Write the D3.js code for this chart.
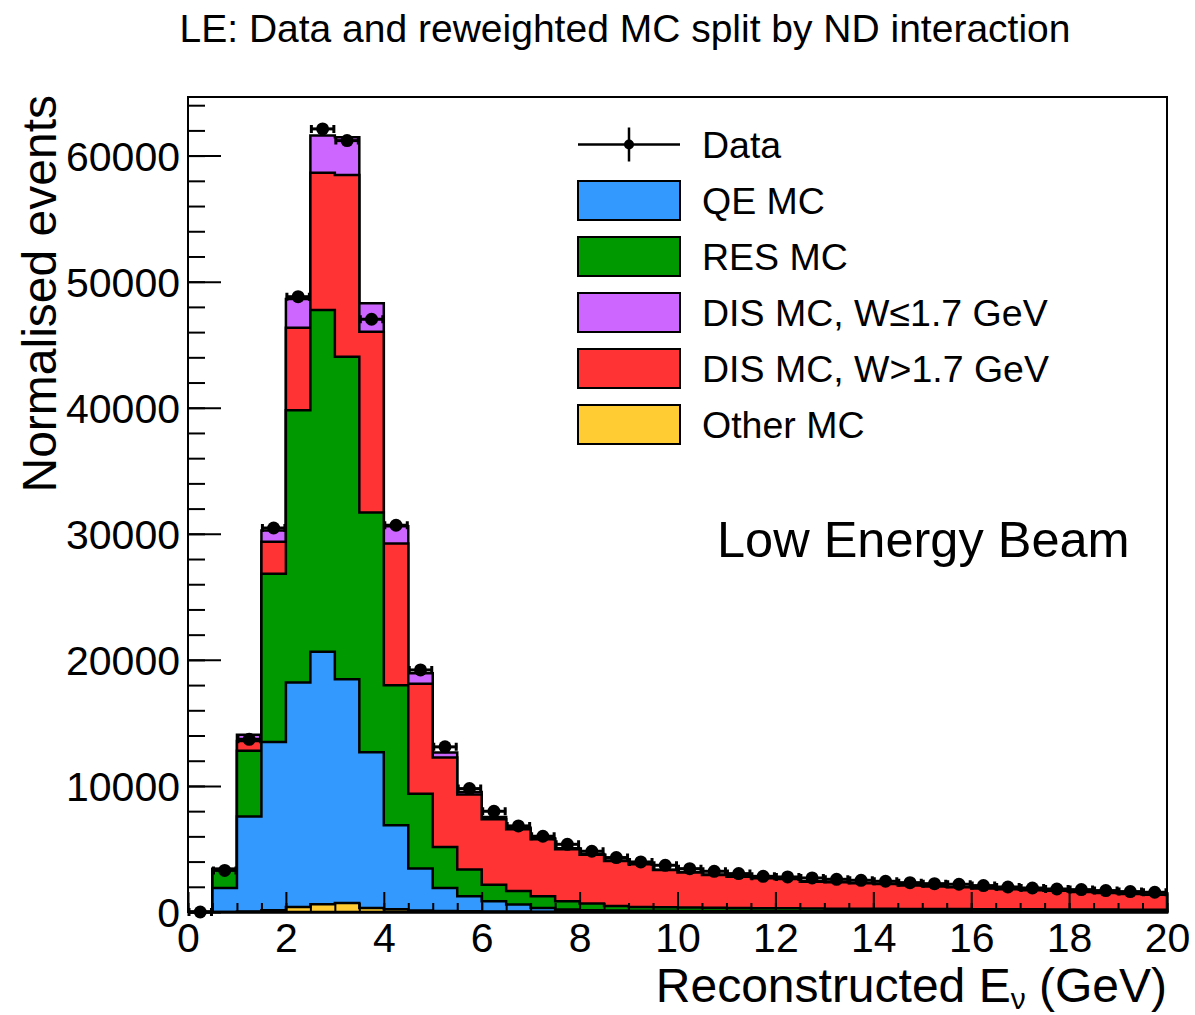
<!DOCTYPE html>
<html>
<head>
<meta charset="utf-8">
<script src="https://cdn.jsdelivr.net/npm/d3@7"></script>
<style>
  body { margin: 0; background: #fff; }
  svg { display: block; }
  text { font-family: "Liberation Sans", Arial, Helvetica, sans-serif; fill: #000; }
</style>
</head>
<body>
<svg id="chart" width="1195" height="1015"></svg>
<script>
// 0.5 GeV bins from 0 to 20 GeV
var binEdges = d3.range(0, 20.01, 0.5);

// per-bin contributions
var otherMC   = [0,0,40,130,400,610,715,320,215,120,80,60,40,30,25,20,20,15,15,12,12,11,11,10,10,10,10,9,9,9,9,8,8,8,8,8,7,7,7,7];
var qeMC      = [0,1900,7535,13360,17800,20040,17755,12350,6675,3330,1825,1186,810,560,295,170,110,95,85,80,75,70,65,60,58,55,52,50,48,46,44,42,40,38,36,35,33,32,31,30];
var resMC     = [0,1500,5225,13350,21610,27110,25580,19020,11090,5930,3255,2119,1320,1080,930,660,540,370,300,280,265,255,245,235,225,215,205,200,195,190,185,180,175,170,165,160,155,150,145,140];
var disHighMC = [0,20,770,2530,6540,10890,14420,14340,11260,8720,7090,5955,5190,4890,4520,4125,3880,3570,3390,2953,2791,2604,2479,2367,2329,2123,2097,2026,1973,1851,1778,1727,1644,1592,1519,1476,1384,1311,1247,1193];
var disLowMC  = [0,20,490,900,2280,2940,2990,2250,1360,830,400,200,180,130,80,85,60,40,40,35,32,30,30,28,28,27,26,25,25,24,24,23,23,22,22,21,21,20,20,20];
var dataPts   = [0,3300,13700,30460,48810,62120,61190,47020,30680,19200,13100,9790,7990,6830,6010,5370,4820,4320,3970,3706,3440,3230,3046,2830,2780,2700,2595,2516,2437,2330,2250,2200,2095,1985,1905,1825,1775,1700,1620,1565];

var xTicks = [0, 2, 4, 6, 8, 10, 12, 14, 16, 18, 20];
var yTicks = [0, 10000, 20000, 30000, 40000, 50000, 60000];

// stack order, bottom to top
var series = [
  { key: 'other',   name: 'Other MC',            color: '#ffcc33', vals: otherMC },
  { key: 'qe',      name: 'QE MC',               color: '#3399ff', vals: qeMC },
  { key: 'res',     name: 'RES MC',              color: '#009900', vals: resMC },
  { key: 'disHigh', name: 'DIS MC, W>1.7 GeV',   color: '#ff3333', vals: disHighMC },
  { key: 'disLow',  name: 'DIS MC, W\u22641.7 GeV', color: '#cc66ff', vals: disLowMC }
];
var legendOrder = ['qe', 'res', 'disLow', 'disHigh', 'other'];

(function () {
  var svg = d3.select('#chart');

  var padL = 188, padR = 1167, padT = 97, padB = 912;

  var x = d3.scaleLinear().domain([0, 20]).range([padL, padR]);
  var y = d3.scaleLinear().domain([0, 64650]).range([padB, padT]);

  // build rows and stack them
  var rows = dataPts.map(function (d, i) {
    var r = {};
    series.forEach(function (s) { r[s.key] = s.vals[i]; });
    return r;
  });
  var stacked = d3.stack().keys(series.map(function (s) { return s.key; }))(rows);

  var line = d3.line()
    .x(function (d) { return x(d[0]); })
    .y(function (d) { return y(d[1]); });

  function stepPoints(layer) {
    var pts = [[binEdges[0], 0]];
    layer.forEach(function (d, i) {
      pts.push([binEdges[i], d[1]]);
      pts.push([binEdges[i + 1], d[1]]);
    });
    pts.push([binEdges[binEdges.length - 1], 0]);
    return pts;
  }

  // draw cumulative histograms from the top of the stack down
  var histWrap = svg.append('g').attr('class', 'hist-wrap');
  for (var k = stacked.length - 1; k >= 0; k--) {
    histWrap.append('path')
      .attr('d', line(stepPoints(stacked[k])) + 'Z')
      .style('fill', series[k].color)
      .style('stroke', '#000')
      .style('stroke-width', 2.5)
      .style('stroke-linejoin', 'miter');
  }

  // Axis
  var axisFont = 41;

  var yMajor = svg.append('g')
    .attr('transform', `translate(${padL},0)`)
    .call(d3.axisLeft(y).tickValues(yTicks).tickSize(-33).tickSizeOuter(0).tickPadding(8).tickFormat(d3.format('d')));
  var yMinor = svg.append('g')
    .attr('transform', `translate(${padL},0)`)
    .call(d3.axisLeft(y).tickValues(d3.range(0, 64001, 2000)).tickSize(-17).tickSizeOuter(0).tickFormat(''));

  var xMajor = svg.append('g')
    .attr('transform', `translate(0,${padB})`)
    .call(d3.axisBottom(x).tickValues(xTicks).tickSize(-20).tickSizeOuter(0).tickPadding(10).tickFormat(d3.format('d')));
  var xMinor = svg.append('g')
    .attr('transform', `translate(0,${padB})`)
    .call(d3.axisBottom(x).tickValues(binEdges).tickSize(-9).tickSizeOuter(0).tickFormat(''));

  [yMajor, yMinor, xMajor, xMinor].forEach(function (g) {
    g.select('.domain').remove();
    g.selectAll('line').style('stroke', '#000').style('stroke-width', 2);
    g.attr('font-family', null).attr('font-size', null);
    g.selectAll('text').style('font-size', axisFont + 'px');
  });
  yMajor.selectAll('text').attr('dy', '0.36em');
  xMajor.selectAll('text').attr('dy', '0.72em');

  // frame
  svg.append('rect')
    .attr('x', padL).attr('y', padT)
    .attr('width', padR - padL).attr('height', padB - padT)
    .style('fill', 'none').style('stroke', '#000').style('stroke-width', 2);

  // data points with horizontal bin-width bars
  var dataWrap = svg.append('g').attr('class', 'data-wrap');
  var pts = dataWrap.selectAll('g')
    .data(dataPts)
    .enter().append('g');

  pts.append('line')
    .attr('x1', function (d, i) { return x(binEdges[i]); })
    .attr('x2', function (d, i) { return x(binEdges[i + 1]); })
    .attr('y1', function (d) { return y(d); })
    .attr('y2', function (d) { return y(d); })
    .style('stroke', '#000').style('stroke-width', 3);

  pts.append('path')
    .attr('d', function (d, i) {
      var yy = y(d), x1 = x(binEdges[i]), x2 = x(binEdges[i + 1]);
      return `M${x1 + 1},${yy - 4}V${yy + 4}M${x2 - 1},${yy - 4}V${yy + 4}`;
    })
    .style('stroke', '#000').style('stroke-width', 3);

  pts.append('circle')
    .attr('cx', function (d, i) { return x((binEdges[i] + binEdges[i + 1]) / 2); })
    .attr('cy', function (d) { return y(d); })
    .attr('r', 6.5)
    .style('fill', '#000');

  // Title
  svg.append('text')
    .attr('x', 625).attr('y', 42)
    .style('text-anchor', 'middle')
    .style('font-size', '39px')
    .text('LE: Data and reweighted MC split by ND interaction');

  // axis titles
  svg.append('text')
    .attr('transform', 'translate(56,95) rotate(-90)')
    .style('text-anchor', 'end')
    .style('font-size', '48px')
    .text('Normalised events');

  var xt = svg.append('text')
    .attr('x', padR).attr('y', 1002)
    .style('text-anchor', 'end')
    .style('font-size', '48px');
  xt.append('tspan').text('Reconstructed E');
  xt.append('tspan').attr('dy', 7).style('font-size', '30px').text('\u03bd');
  xt.append('tspan').attr('dy', -7).text(' (GeV)');

  // Legend
  var legend = svg.append('g').attr('class', 'legend');
  var lgX = 578, lgW = 102, lgH = 39, lgTextX = 702, lgY0 = 144.5, lgStep = 56;

  var dataLg = legend.append('g').attr('transform', `translate(0,${lgY0})`);
  dataLg.append('line').attr('x1', lgX).attr('x2', lgX + lgW).attr('y1', 0).attr('y2', 0)
    .style('stroke', '#000').style('stroke-width', 2.5);
  dataLg.append('line').attr('x1', lgX + lgW / 2).attr('x2', lgX + lgW / 2).attr('y1', -17).attr('y2', 17)
    .style('stroke', '#000').style('stroke-width', 2.5);
  dataLg.append('circle').attr('cx', lgX + lgW / 2).attr('cy', 0).attr('r', 5).style('fill', '#000');
  dataLg.append('text').attr('x', lgTextX).attr('y', 0).attr('dy', '0.36em')
    .style('font-size', '37.5px').text('Data');

  legendOrder.forEach(function (key, i) {
    var s = series.filter(function (d) { return d.key === key; })[0];
    var g = legend.append('g').attr('transform', `translate(0,${lgY0 + (i + 1) * lgStep})`);
    g.append('rect')
      .attr('x', lgX).attr('y', -lgH / 2).attr('width', lgW).attr('height', lgH)
      .style('fill', s.color).style('stroke', '#000').style('stroke-width', 2);
    g.append('text').attr('x', lgTextX).attr('y', 0).attr('dy', '0.36em')
      .style('font-size', '37.5px').text(s.name);
  });

  // beam label
  svg.append('text')
    .attr('x', 717).attr('y', 557)
    .style('font-size', '50.5px')
    .text('Low Energy Beam');
})();
</script>
</body>
</html>
